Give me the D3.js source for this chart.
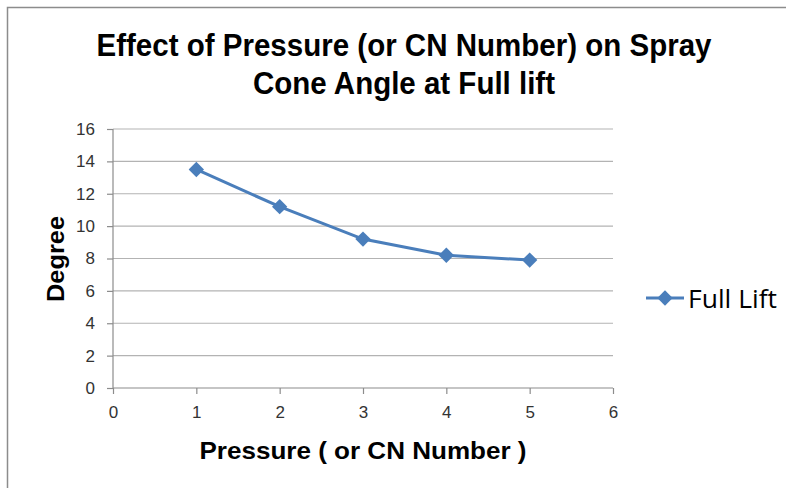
<html>
<head>
    <style>
        body { margin: 0; background: #fff; }
        text { font-family: "Liberation Sans", Arial, sans-serif; }
        .tick text { font-size: 17px; fill: #333; }
    </style>
</head>
<body>
    <script src="https://d3js.org/d3.v7.min.js"></script>
    <script>
        var width = 786,
            height = 488;

        // data
        var pressure = [1, 2, 3, 4, 5];
        var coneAngle = [13.5, 11.2, 9.2, 8.2, 7.9];
        var xTicks = [0, 1, 2, 3, 4, 5, 6];
        var yTicks = [0, 2, 4, 6, 8, 10, 12, 14, 16];
        var seriesName = "Full Lift";
        var titleLines = ["Effect of Pressure (or CN Number) on Spray", "Cone Angle at Full lift"];

        var plot = { left: 113, right: 613, top: 129, bottom: 388 };
        var blue = "#4a7ebb";

        var svg = d3.select("body")
            .append("svg")
            .attr("width", width)
            .attr("height", height);

        // chart border (right / bottom run off the picture)
        svg.append("rect")
            .attr("x", 7.5)
            .attr("y", 7.5)
            .attr("width", 800)
            .attr("height", 500)
            .attr("fill", "#fff")
            .attr("stroke", "#8c8c8c")
            .attr("stroke-width", 1.5);

        var x = d3.scaleLinear().domain([0, 6]).range([plot.left, plot.right]);
        var y = d3.scaleLinear().domain([0, 16]).range([plot.bottom, plot.top]);

        // gridlines
        svg.append("g")
            .selectAll("line")
            .data(yTicks.filter(d => d > 0))
            .enter()
            .append("line")
            .attr("x1", plot.left)
            .attr("x2", plot.right)
            .attr("y1", d => y(d))
            .attr("y2", d => y(d))
            .attr("stroke", "#b3b3b3")
            .attr("stroke-width", 1.2);

        // y axis
        var yAxis = svg.append("g")
            .attr("transform", "translate(" + plot.left + ",0)")
            .call(d3.axisLeft(y).tickValues(yTicks).tickFormat(d3.format("d")).tickSize(6).tickPadding(12));
        // x axis
        var xAxis = svg.append("g")
            .attr("transform", "translate(0," + plot.bottom + ")")
            .call(d3.axisBottom(x).tickValues(xTicks).tickFormat(d3.format("d")).tickSize(6).tickPadding(12));

        [yAxis, xAxis].forEach(function (ax) {
            ax.attr("font-size", null).attr("font-family", "'Open Sans', 'Liberation Sans', sans-serif");
            ax.select(".domain").attr("stroke", "#8c8c8c").attr("stroke-width", 1.2);
            ax.selectAll(".tick line").attr("stroke", "#8c8c8c").attr("stroke-width", 1.2);
        });
        xAxis.select(".domain").attr("d", "M" + plot.left + ",0H" + plot.right);
        yAxis.select(".domain").attr("d", "M0," + plot.bottom + "V" + plot.top);

        // line
        var pts = pressure.map((p, i) => ({ p: p, v: coneAngle[i] }));
        var line = d3.line().x(d => x(d.p)).y(d => y(d.v));
        svg.append("path")
            .datum(pts)
            .attr("d", line)
            .attr("fill", "none")
            .attr("stroke", blue)
            .attr("stroke-width", 3);

        var diamond = d3.symbol().type(d3.symbolDiamond2).size(150);
        svg.append("g")
            .selectAll("path")
            .data(pts)
            .enter()
            .append("path")
            .attr("d", diamond)
            .attr("transform", d => "translate(" + x(d.p) + "," + y(d.v) + ")")
            .attr("fill", blue);

        // title
        svg.append("g")
            .selectAll("text")
            .data(titleLines)
            .enter()
            .append("text")
            .attr("x", 404)
            .attr("y", (d, i) => 56 + i * 38)
            .attr("text-anchor", "middle")
            .attr("textLength", (d, i) => i == 0 ? 615 : 302)
            .attr("lengthAdjust", "spacingAndGlyphs")
            .style("font-size", "32px")
            .style("font-weight", "bold")
            .text(d => d);

        // axis titles
        svg.append("text")
            .attr("x", 363)
            .attr("y", 459)
            .attr("text-anchor", "middle")
            .attr("textLength", 327)
            .attr("lengthAdjust", "spacingAndGlyphs")
            .style("font-size", "24px")
            .style("font-weight", "bold")
            .text("Pressure ( or CN Number )");

        svg.append("text")
            .attr("transform", "translate(64,259) rotate(-90)")
            .attr("text-anchor", "middle")
            .attr("textLength", 86)
            .attr("lengthAdjust", "spacingAndGlyphs")
            .style("font-size", "24px")
            .style("font-weight", "bold")
            .text("Degree");

        // legend
        var lg = svg.append("g").attr("transform", "translate(646,298)");
        lg.append("line")
            .attr("x1", 0).attr("x2", 38)
            .attr("stroke", blue).attr("stroke-width", 3);
        lg.append("path")
            .attr("d", diamond)
            .attr("transform", "translate(19,0)")
            .attr("fill", blue);
        lg.append("text")
            .attr("x", 42)
            .attr("y", 10)
            .attr("textLength", 89)
            .attr("lengthAdjust", "spacingAndGlyphs")
            .style("font-size", "25px")
            .style("font-family", "'Open Sans', 'Liberation Sans', sans-serif")
            .text(seriesName);
    </script>
</body>
</html>
